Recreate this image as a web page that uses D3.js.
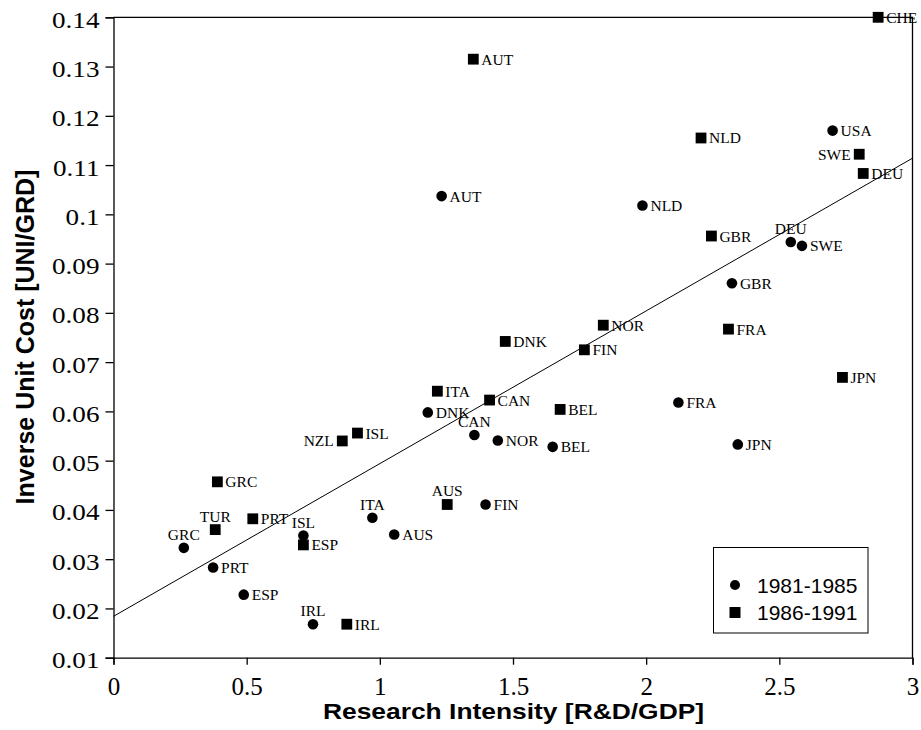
<!DOCTYPE html>
<html>
<head>
<meta charset="utf-8">
<script src="https://cdn.jsdelivr.net/npm/d3@7"></script>
<style>
  body { margin: 0; background: #fff; }
  svg { display: block; }
  .serif { font-family: 'Liberation Serif', 'Times New Roman', Times, serif; }
  .sans { font-family: 'Liberation Sans', Arial, Helvetica, sans-serif; }
</style>
</head>
<body>
<div class="chart"></div>
<script>
// 1981-1985 (circles)
const namesA = ['AUT','USA','NLD','DEU','SWE','GBR','FRA','JPN','CAN','NOR','BEL','FIN','DNK','ITA','AUS','ISL','GRC','PRT','ESP','IRL'];
const xA = [1.232,2.700,1.986,2.543,2.585,2.322,2.121,2.344,1.355,1.443,1.649,1.397,1.180,0.972,1.054,0.713,0.264,0.374,0.489,0.749];
const yA = [0.1037,0.1170,0.1018,0.0944,0.0936,0.0860,0.0618,0.0533,0.0552,0.0541,0.0528,0.0411,0.0598,0.0384,0.0350,0.0348,0.0323,0.0283,0.0228,0.0168];

// 1986-1991 (squares)
const namesB = ['CHE','AUT','NLD','SWE','DEU','GBR','NOR','FRA','DNK','FIN','JPN','CAN','BEL','ITA','ISL','NZL','AUS','GRC','TUR','PRT','ESP','IRL'];
const xB = [2.871,1.351,2.206,2.800,2.815,2.245,1.839,2.309,1.471,1.768,2.737,1.412,1.677,1.216,0.916,0.859,1.253,0.390,0.382,0.523,0.713,0.876];
const yB = [0.1400,0.1315,0.1155,0.1122,0.1083,0.0956,0.0775,0.0767,0.0742,0.0725,0.0669,0.0623,0.0604,0.0641,0.0556,0.0540,0.0411,0.0457,0.0360,0.0382,0.0329,0.0168];

// fitted line end points
const trendX = [0, 3];
const trendY = [0.0184, 0.1114];

const xTicks = [0, 0.5, 1, 1.5, 2, 2.5, 3];
const yTicks = [0.01,0.02,0.03,0.04,0.05,0.06,0.07,0.08,0.09,0.1,0.11,0.12,0.13,0.14];
const legendLabels = ['1981-1985', '1986-1991'];

// label placement (default right)
const placeA = {DEU:'t', CAN:'t', ITA:'t', ISL:'t', GRC:'t', IRL:'t'};
const placeB = {SWE:'l', NZL:'l', AUS:'t', TUR:'t'};

const W = 921, H = 730;
const margin = {left: 113.5, right: 8.5, top: 17.3, bottom: 72.3};

const svg = d3.select('.chart').append('svg')
    .attr('width', W)
    .attr('height', H);

const x = d3.scaleLinear().domain([0, 3]).range([margin.left, W - margin.right]);
const y = d3.scaleLinear().domain([0.01, 0.14]).range([H - margin.bottom, margin.top]);

// frame top/right
svg.append('path')
    .attr('d', 'M' + x(0) + ',' + y(0.14) + 'H' + x(3) + 'V' + y(0.01))
    .attr('fill', 'none')
    .attr('stroke', '#000')
    .attr('stroke-width', 1.3);

// axes
const xAxis = svg.append('g')
    .attr('transform', 'translate(0,' + y(0.01) + ')')
    .call(d3.axisBottom(x).tickValues(xTicks).tickSize(7).tickFormat(d => String(d)));
const yAxis = svg.append('g')
    .attr('transform', 'translate(' + x(0) + ',0)')
    .call(d3.axisLeft(y).tickValues(yTicks).tickSize(8).tickFormat(d => String(+d.toFixed(2))));

[xAxis, yAxis].forEach(a => {
    a.attr('font-family', null).attr('font-size', null);
    a.select('.domain').attr('stroke', '#000').attr('stroke-width', 1.3);
    a.selectAll('.tick line').attr('stroke', '#000').attr('stroke-width', 1.3);
    a.selectAll('.tick text')
        .attr('fill', '#000')
        .attr('class', 'serif')
        .attr('dy', null);
});
xAxis.selectAll('.tick text')
    .attr('font-size', 25)
    .attr('y', 37.5);
yAxis.selectAll('.tick text')
    .attr('font-size', 23)
    .attr('x', 0)
    .attr('y', 0)
    .attr('transform', 'translate(-14,10) scale(1.18,1)');

// trend line
svg.append('path')
    .datum(d3.zip(trendX, trendY))
    .attr('fill', 'none')
    .attr('stroke', '#000')
    .attr('stroke-width', 1)
    .attr('d', d3.line().x(d => x(d[0])).y(d => y(d[1])));

const dataA = namesA.map((n, i) => ({name: n, x: xA[i], y: yA[i], pos: placeA[n] || 'r'}));
const dataB = namesB.map((n, i) => ({name: n, x: xB[i], y: yB[i], pos: placeB[n] || 'r'}));

svg.append('g').selectAll('circle')
    .data(dataA)
    .enter()
    .append('circle')
    .attr('cx', d => x(d.x))
    .attr('cy', d => y(d.y))
    .attr('r', 5.3)
    .attr('fill', '#000');

svg.append('g').selectAll('rect')
    .data(dataB)
    .enter()
    .append('rect')
    .attr('x', d => x(d.x) - 5.4)
    .attr('y', d => y(d.y) - 5.4)
    .attr('width', 10.8)
    .attr('height', 10.8)
    .attr('fill', '#000');

function addLabels(data) {
    svg.append('g').selectAll('text')
        .data(data)
        .enter()
        .append('text')
        .attr('class', 'serif')
        .attr('font-size', 15.5)
        .attr('x', d => d.pos === 'r' ? x(d.x) + 8 : d.pos === 'l' ? x(d.x) - 8.5 : x(d.x))
        .attr('y', d => d.pos === 't' ? y(d.y) - 8 : y(d.y) + 5.5)
        .attr('text-anchor', d => d.pos === 'r' ? 'start' : d.pos === 'l' ? 'end' : 'middle')
        .text(d => d.name);
}
addLabels(dataA);
addLabels(dataB);

// axis titles
svg.append('text')
    .attr('class', 'sans')
    .attr('transform', 'translate(513.5,719) scale(1.2,1)')
    .attr('text-anchor', 'middle')
    .attr('font-weight', 'bold')
    .attr('font-size', 22)
    .text('Research Intensity [R&D/GDP]');

svg.append('text')
    .attr('class', 'sans')
    .attr('transform', 'translate(34,337) rotate(-90)')
    .attr('text-anchor', 'middle')
    .attr('font-weight', 'bold')
    .attr('font-size', 25)
    .text('Inverse Unit Cost [UNI/GRD]');

// legend
const legend = svg.append('g');
legend.append('rect')
    .attr('x', 713.5)
    .attr('y', 547.5)
    .attr('width', 154.5)
    .attr('height', 85.5)
    .attr('fill', '#fff')
    .attr('stroke', '#000')
    .attr('stroke-width', 1);
legend.append('circle')
    .attr('cx', 735)
    .attr('cy', 585)
    .attr('r', 5)
    .attr('fill', '#000');
legend.append('rect')
    .attr('x', 729.5)
    .attr('y', 607)
    .attr('width', 11)
    .attr('height', 11)
    .attr('fill', '#000');
legend.selectAll('text.lg')
    .data(legendLabels)
    .enter()
    .append('text')
    .attr('class', 'sans')
    .attr('x', 757)
    .attr('y', (d, i) => 592.5 + i * 27)
    .attr('font-size', 21)
    .text(d => d);
</script>
</body>
</html>
